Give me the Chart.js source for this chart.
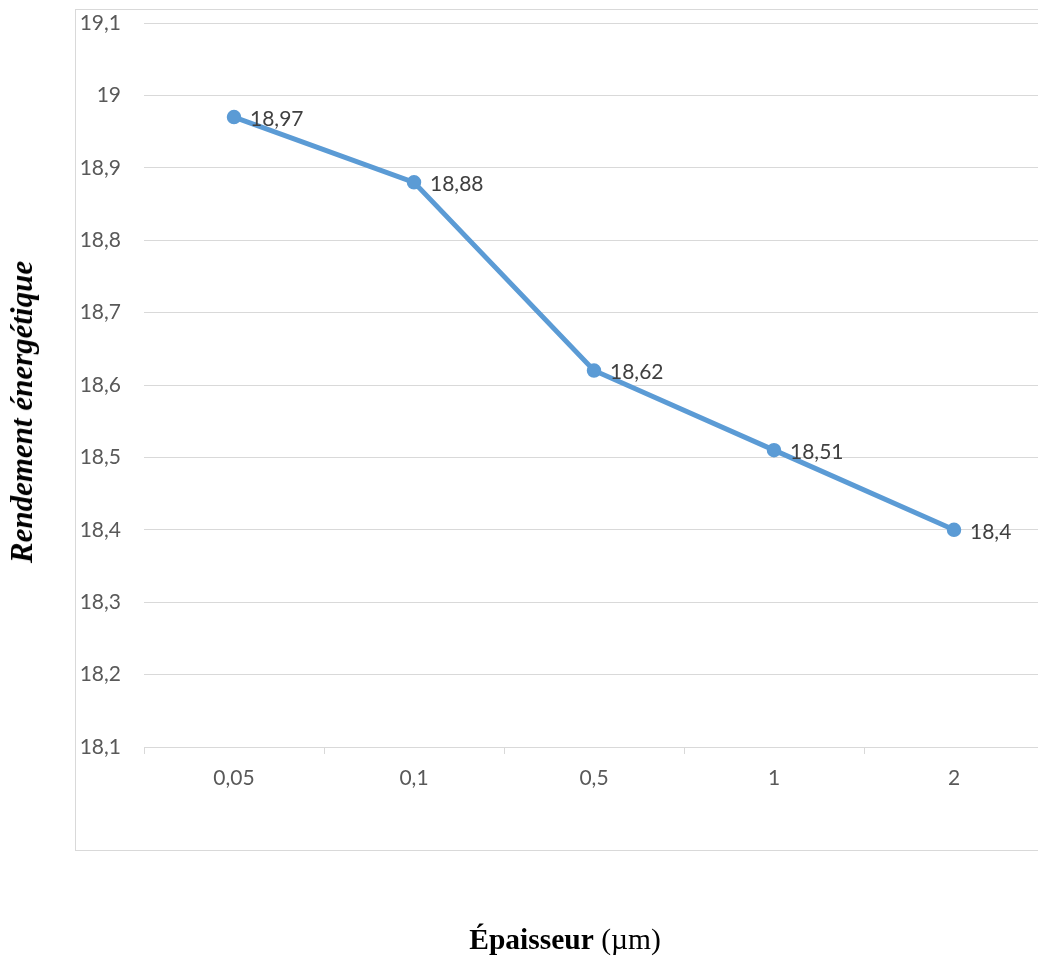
<!DOCTYPE html>
<html>
<head>
<meta charset="utf-8">
<script src="https://cdn.jsdelivr.net/npm/chart.js@4"></script>
<style>
  html, body { margin: 0; padding: 0; background: #fff; overflow: hidden; }
  #wrap { position: relative; width: 1038px; height: 958px; overflow: hidden; }
  #frame { position: absolute; left: 75px; top: 9px; width: 1100px; height: 840px; border: 1px solid #d9d9d9; }
  #chart { position: absolute; left: 0; top: 0; }
  #yTitle {
    position: absolute; left: 22px; top: 412px;
    transform: translate(-50%, -50%) rotate(-90deg);
    font: italic bold 31px "Liberation Serif", "Times New Roman", serif;
    white-space: nowrap; color: #000;
  }
  #xTitle {
    position: absolute; left: 565px; top: 939px;
    transform: translate(-50%, -50%);
    font: 29.5px "Liberation Serif", "Times New Roman", serif;
    white-space: nowrap; color: #000;
  }
</style>
</head>
<body>
<div id="wrap">
  <div id="frame"></div>
  <canvas id="chart" width="1070" height="958"></canvas>
  <div id="yTitle">Rendement énergétique</div>
  <div id="xTitle"><b>Épaisseur</b> (µm)</div>
</div>
<script>
// epaisseur (µm) vs rendement
const categories = ['0,05', '0,1', '0,5', '1', '2'];
const rendement = [18.97, 18.88, 18.62, 18.51, 18.4];
const Y_MIN = 18.1;
const Y_MAX = 19.1;
const Y_STEP = 0.1;

const GRID = '#d9d9d9';
const LINE = '#5b9bd5';

const frNum = (v) => String(Number(v.toFixed(2))).replace('.', ',');

// value labels right of each point
const pointLabels = {
    id: 'pointLabels',
    afterDatasetsDraw(chart) {
        const ctx = chart.ctx;
        const meta = chart.getDatasetMeta(0);
        ctx.save();
        ctx.font = '21px Lato';
        ctx.fillStyle = '#404040';
        ctx.textAlign = 'left';
        ctx.textBaseline = 'middle';
        meta.data.forEach((pt, i) => {
            ctx.fillText(frNum(chart.data.datasets[0].data[i]), pt.x + 16, pt.y + 2);
        });
        ctx.restore();
    }
};

new Chart(document.getElementById('chart').getContext('2d'), {
    type: 'line',
    data: {
        labels: categories,
        datasets: [{
            data: rendement,
            borderColor: LINE,
            backgroundColor: LINE,
            borderWidth: 5,
            pointRadius: 6.5,
            pointBorderWidth: 1.5,
            pointBorderColor: LINE,
            pointBackgroundColor: LINE,
            tension: 0
        }]
    },
    options: {
        responsive: false,
        animation: false,
        layout: { padding: { left: 0, top: 23, right: 26, bottom: 0 } },
        scales: {
            x: {
                offset: true,
                grid: {
                    offset: true,
                    drawOnChartArea: false,
                    drawTicks: true,
                    tickLength: 7,
                    color: GRID
                },
                border: { display: true, color: GRID, width: 1 },
                ticks: { color: '#595959', font: { family: 'Lato', size: 21 }, padding: 12 },
                afterFit: (s) => { s.height = 211; }
            },
            y: {
                min: Y_MIN,
                max: Y_MAX,
                // invisible tick marks give the label gap without padding the top
                grid: { color: GRID, drawTicks: true, tickLength: 23, tickColor: 'rgba(0,0,0,0)' },
                border: { display: false },
                ticks: {
                    stepSize: Y_STEP,
                    padding: 0,
                    color: '#595959',
                    font: { family: 'Lato', size: 21 },
                    callback: (v) => frNum(Number(v.toFixed(1)))
                },
                afterFit: (s) => { s.width = 144; }
            }
        },
        plugins: {
            legend: { display: false },
            tooltip: { enabled: false }
        }
    },
    plugins: [pointLabels]
});
</script>
</body>
</html>
